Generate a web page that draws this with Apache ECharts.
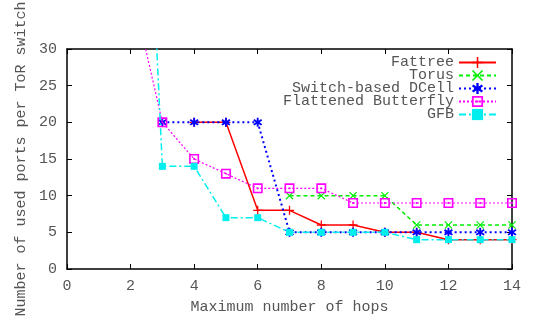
<!DOCTYPE html>
<html>
<head>
<meta charset="utf-8">
<script src="https://cdn.jsdelivr.net/npm/echarts@6/dist/echarts.min.js"></script>
<style>html,body{margin:0;padding:0;background:#fff}#c{width:534px;height:320px}</style>
</head>
<body>
<div id="c"></div>
<script>
// hops (x values) and series values
const fattreeHops = [4, 5, 6, 7, 8, 9, 10, 11, 12, 13, 14];
const fattree     = [20, 20, 8, 8, 6, 6, 5, 5, 4, 4, 4];
const torusHops   = [7, 8, 9, 10, 11, 12, 13, 14];
const torus       = [10, 10, 10, 10, 6, 6, 6, 6];
const dcellHops   = [3, 4, 5, 6, 7, 8, 9, 10, 11, 12, 13, 14];
const dcell       = [20, 20, 20, 20, 5, 5, 5, 5, 5, 5, 5, 5];
const fbHops      = [2, 3, 4, 5, 6, 7, 8, 9, 10, 11, 12, 13, 14];
const fb          = [39, 20, 15, 13, 11, 11, 11, 9, 9, 9, 9, 9, 9];
const gfbHops     = [2, 3, 4, 5, 6, 7, 8, 9, 10, 11, 12, 13, 14];
const gfb         = [105, 14, 14, 7, 7, 5, 5, 5, 5, 4, 4, 4, 4];
const seriesNames = ['Fattree', 'Torus', 'Switch-based DCell', 'Flattened Butterfly', 'GFB'];
const xTicks = [0, 2, 4, 6, 8, 10, 12, 14];
const yTicks = [0, 5, 10, 15, 20, 25, 30];

const FONT = 'Liberation Mono';
const TXT = '#555555';
const pair = (xs, ys) => xs.map((x, i) => [x, ys[i]]);

const SYM_PLUS = 'path://M4.3,0H5.7V4.3H10V5.7H5.7V10H4.3V5.7H0V4.3H4.3Z';
const SYM_X = 'path://M0,1L1,0L5,4L9,0L10,1L6,5L10,9L9,10L5,6L1,10L0,9L4,5Z';
const SYM_STAR = 'path://M4,0H6V3.2L8.6,1.4L9.8,3L7,5L9.8,7L8.6,8.6L6,6.8V10H4V6.8L1.4,8.6L0.2,7L3,5L0.2,3L1.4,1.4L4,3.2Z';
const SYM_OSQ = 'path://M0,0H10V10H0Z M1.6,1.6V8.4H8.4V1.6Z M4.1,4.1H5.9V5.9H4.1Z';
const SYM_FSQ = 'rect';

const colors = ['#ff0000', '#00ee00', '#0000ff', '#ff00ff', '#00eeee'];
const datas = [pair(fattreeHops, fattree), pair(torusHops, torus), pair(dcellHops, dcell), pair(fbHops, fb), pair(gfbHops, gfb)];
const symbols = [SYM_PLUS, SYM_X, SYM_STAR, SYM_OSQ, SYM_FSQ];
const symSizes = [9, 8, 9, 10, 7];
const lineTypes = ['solid', [4, 3], [2, 3], [2, 2], [7, 3, 2, 3]];
const lineWidths = [1.5, 1.5, 2, 1.2, 1.5];

const legendCenters = [62, 75, 88, 101, 114];

const frameAxis = { show: true, onZero: false, lineStyle: { color: '#000', width: 1.5 } };
const tick = { inside: true, length: 5, lineStyle: { color: '#000' } };

const chart = echarts.init(document.getElementById('c'));
chart.setOption({
  animation: false,
  backgroundColor: '#fff',
  grid: { left: 67, right: 22, top: 49, bottom: 47 },
  legend: seriesNames.map((n, i) => ({
    data: [n],
    orient: 'vertical',
    right: 37,
    top: legendCenters[i] - 7,
    align: 'right',
    padding: 0,
    itemWidth: 37,
    itemHeight: 14,
    selectedMode: false,
    textStyle: { fontFamily: FONT, fontSize: 15, color: TXT, lineHeight: 14 }
  })),
  xAxis: [{
    type: 'value', min: 0, max: 14, interval: 2,
    name: 'Maximum number of hops', nameLocation: 'middle', nameGap: 31,
    nameTextStyle: { fontFamily: FONT, fontSize: 15, color: TXT },
    axisLine: frameAxis, axisTick: tick,
    axisLabel: { fontFamily: FONT, fontSize: 15, color: TXT, margin: 10,
      formatter: v => xTicks.includes(v) ? String(v) : '' },
    splitLine: { show: false }
  }, {
    type: 'value', min: 0, max: 14, interval: 2, position: 'top',
    axisLine: frameAxis, axisTick: tick,
    axisLabel: { show: false }, splitLine: { show: false }
  }],
  yAxis: [{
    type: 'value', min: 0, max: 30, interval: 5,
    name: 'Number of used ports per ToR switch', nameLocation: 'middle', nameGap: 36,
    nameTextStyle: { fontFamily: FONT, fontSize: 15, color: TXT },
    axisLine: frameAxis, axisTick: tick,
    axisLabel: { fontFamily: FONT, fontSize: 15, color: TXT, margin: 10,
      formatter: v => yTicks.includes(v) ? String(v) : '' },
    splitLine: { show: false }
  }, {
    type: 'value', min: 0, max: 30, interval: 5, position: 'right',
    axisLine: frameAxis, axisTick: tick,
    axisLabel: { show: false }, splitLine: { show: false }
  }],
  series: seriesNames.map((n, i) => ({
    name: n,
    type: 'line',
    data: datas[i],
    xAxisIndex: 0, yAxisIndex: 0,
    clip: true,
    symbol: symbols[i],
    symbolSize: symSizes[i],
    showAllSymbol: true,
    color: colors[i],
    itemStyle: { color: colors[i] },
    lineStyle: { color: colors[i], width: lineWidths[i], type: lineTypes[i] },
    z: 2 + i
  }))
});
</script>
</body>
</html>
